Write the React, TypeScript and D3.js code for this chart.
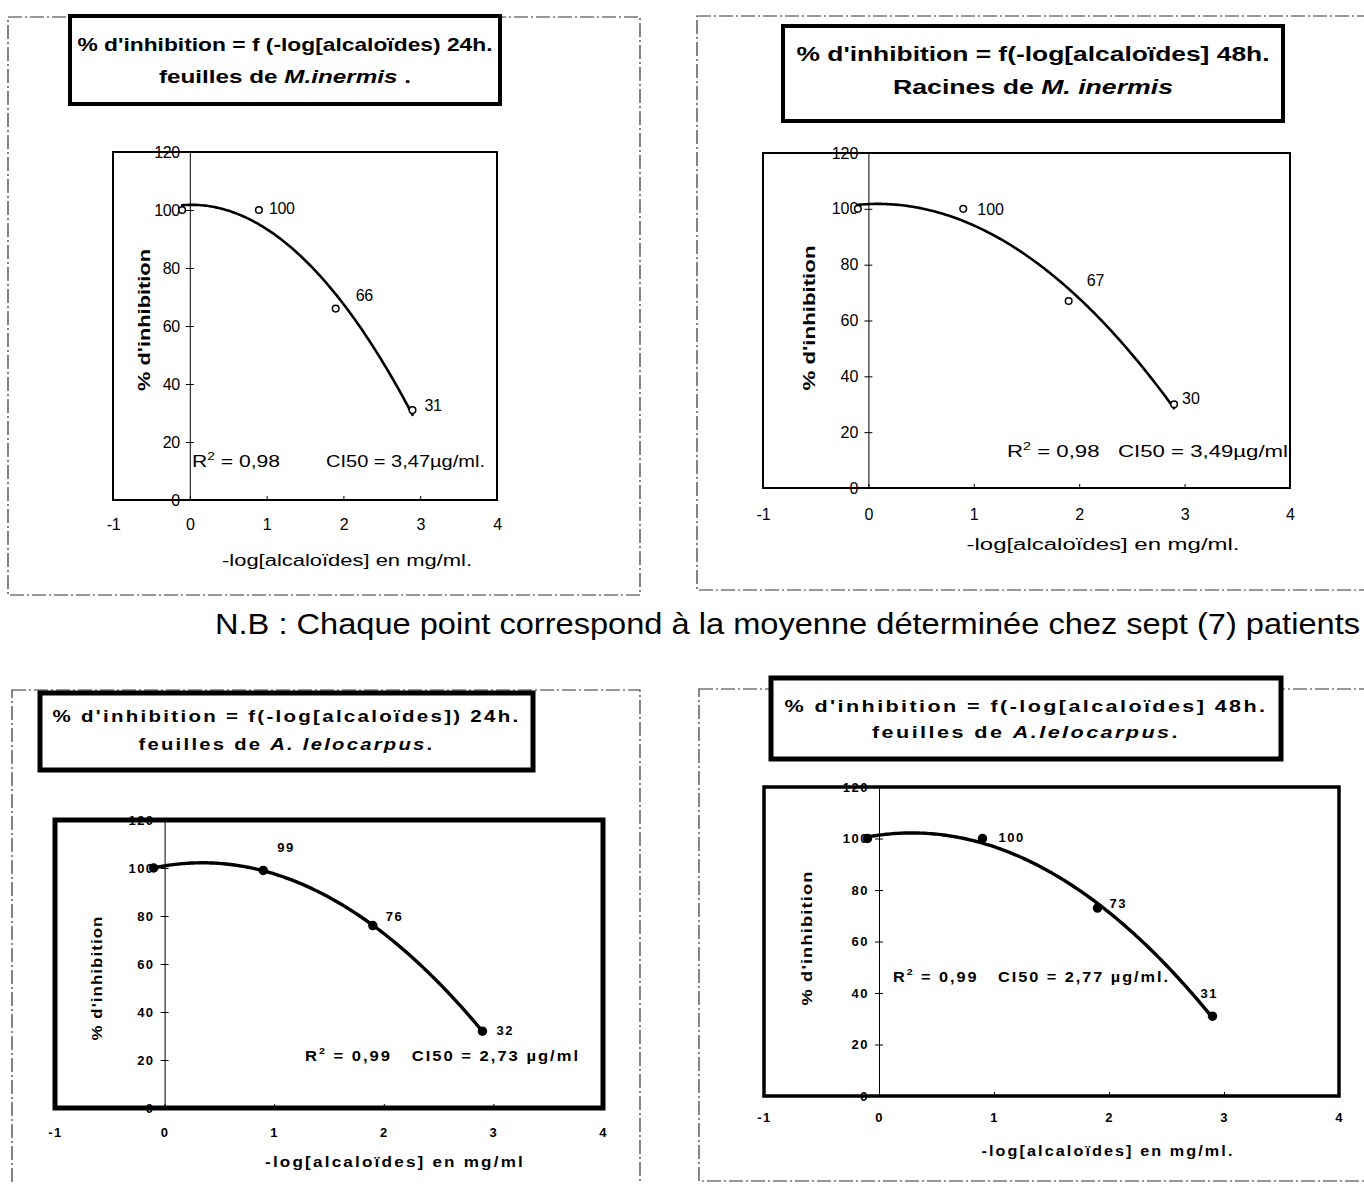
import * as d3 from "d3";
import React, { useEffect, useRef } from "react";

// -log[alcaloïdes] of the four tested dilutions
const doses = [-0.1, 0.9, 1.9, 2.9];
// mean % inhibition per dilution
const inhibLeavesMi24 = [100, 100, 66, 31];
const inhibRootsMi48 = [100, 100, 67, 30];
const inhibLeavesAl24 = [100, 99, 76, 32];
const inhibLeavesAl48 = [100, 100, 73, 31];

const yTicks = [0, 20, 40, 60, 80, 100, 120];
const xTicks = [-1, 0, 1, 2, 3, 4];

const r2Values = ["0,98", "0,98", "0,99", "0,99"];
const ci50Values = ["3,47µg/ml.", "3,49µg/ml", "2,73 µg/ml", "2,77 µg/ml."];

const titleLines = [
    [[["% d'inhibition = f (-log[alcaloïdes) 24h.", false]], [["feuilles de ", false], ["M.inermis", true], [" .", false]]],
    [[["% d'inhibition = f(-log[alcaloïdes] 48h.", false]], [["Racines de ", false], ["M. inermis", true]]],
    [[["% d'inhibition = f(-log[alcaloïdes]) 24h.", false]], [["feuilles de ", false], ["A. lelocarpus", true], [".", false]]],
    [[["% d'inhibition = f(-log[alcaloïdes] 48h.", false]], [["feuilles de ", false], ["A.lelocarpus", true], [".", false]]],
];
const xTitles = [
    "-log[alcaloïdes] en mg/ml.",
    "-log[alcaloïdes] en mg/ml.",
    "-log[alcaloïdes] en mg/ml",
    "-log[alcaloïdes] en mg/ml.",
];
const yTitle = "% d'inhibition";
const note = "N.B : Chaque point correspond à la moyenne déterminée chez sept (7) patients";

// least squares 2nd order trend line (like the spreadsheet one)
function quadFit(xs: number[], ys: number[]) {
    const s = [0, 0, 0, 0, 0];
    const t = [0, 0, 0];
    xs.forEach((x, i) => {
        for (let k = 0; k < 5; k++) s[k] += Math.pow(x, k);
        for (let k = 0; k < 3; k++) t[k] += Math.pow(x, k) * ys[i];
    });
    const m = [
        [s[0], s[1], s[2]],
        [s[1], s[2], s[3]],
        [s[2], s[3], s[4]],
    ];
    const det = (a: number[][]) =>
        a[0][0] * (a[1][1] * a[2][2] - a[1][2] * a[2][1]) -
        a[0][1] * (a[1][0] * a[2][2] - a[1][2] * a[2][0]) +
        a[0][2] * (a[1][0] * a[2][1] - a[1][1] * a[2][0]);
    const D = det(m);
    const coef = [0, 1, 2].map((c) => det(m.map((row, r) => row.map((v, j) => (j === c ? t[r] : v)))) / D);
    return (x: number) => coef[0] + coef[1] * x + coef[2] * x * x;
}

// layout of each panel (pixels)
const panels = [
    {
        values: inhibLeavesMi24, idx: 0,
        outer: [8, 17, 632, 578], box: [70, 16, 430, 88], boxW: 4, lineY: [46, 78], titleSize: 19, titleLen: [415, 252],
        xr: [113, 497], yr: [500, 152], frameW: 2,
        font: 16, fontW: "normal", ls: -0.4, textLs: 0, xLabY: 27,
        xTitle: [347, 562, 250], yTitle: [146, 320, 142], titleFont: 16,
        ann: [[192, 467, 88], [326, 467, 159]], annSize: 16,
        dx: [0, 10, 20, 12], dy: [0, 0, -12, -3], open: true, curveW: 2.6,
    },
    {
        values: inhibRootsMi48, idx: 1,
        outer: [697, 16, 700, 574], box: [783, 26, 500, 95], boxW: 4, lineY: [55, 88], titleSize: 21, titleLen: [473, 280],
        xr: [763, 1290], yr: [488, 153], frameW: 2,
        font: 16, fontW: "normal", ls: 0, textLs: 0, xLabY: 29,
        xTitle: [1103, 546, 273], yTitle: [811, 318, 145], titleFont: 16,
        ann: [[1007, 457, 281]], annSize: 16,
        dx: [0, 14, 18, 8], dy: [0, 2, -19, -4], open: true, curveW: 2.6,
    },
    {
        values: inhibLeavesAl24, idx: 2,
        outer: [12, 690, 628, 520], box: [40, 693, 493, 77], boxW: 5, lineY: [718, 746], titleSize: 16, titleLen: [468, 296],
        xr: [55, 603], yr: [1108, 820], frameW: 5,
        font: 13, fontW: "bold", ls: 1.5, textLs: 1.8, xLabY: 28,
        xTitle: [395, 1163, 260], yTitle: [98, 978, 125], titleFont: 14,
        ann: [[305, 1061, 275]], annSize: 15,
        dx: [0, 14, 13, 14], dy: [0, -22, -8, 0], open: false, curveW: 3.4,
    },
    {
        values: inhibLeavesAl48, idx: 3,
        outer: [699, 689, 700, 492], box: [771, 678, 510, 81], boxW: 5, lineY: [708, 734], titleSize: 16, titleLen: [483, 308],
        xr: [764, 1339], yr: [1096, 787], frameW: 3.5,
        font: 13, fontW: "bold", ls: 1.5, textLs: 1.8, xLabY: 25,
        xTitle: [1108, 1152, 253], yTitle: [808, 938, 135], titleFont: 14,
        ann: [[893, 982, 277]], annSize: 15,
        dx: [0, 16, 12, -12], dy: [0, 0, -3, -22], open: false, curveW: 3.4,
    },
];

const FONT = "'Liberation Sans', Arial, sans-serif";

function drawPanel(svg: any, p: any) {
    const g = svg.append("g").style("font-family", FONT);

    // scanned page frame
    g.append("rect")
        .attr("x", p.outer[0]).attr("y", p.outer[1])
        .attr("width", p.outer[2]).attr("height", p.outer[3])
        .attr("fill", "none").attr("stroke", "#333").attr("stroke-width", 1.2)
        .attr("stroke-dasharray", "14,3,2,3");

    // title box
    g.append("rect")
        .attr("x", p.box[0]).attr("y", p.box[1])
        .attr("width", p.box[2]).attr("height", p.box[3])
        .attr("fill", "#fff").attr("stroke", "#000").attr("stroke-width", p.boxW);
    titleLines[p.idx].forEach((line: any, li: number) => {
        const t = g.append("text")
            .attr("x", p.box[0] + p.box[2] / 2 - p.titleLen[li] / 2).attr("y", p.lineY[li])
            .attr("dominant-baseline", "middle")
            .attr("textLength", p.titleLen[li]).attr("lengthAdjust", "spacingAndGlyphs")
            .style("font-size", p.titleSize + "px").style("font-weight", "bold")
            .style("letter-spacing", p.textLs + "px");
        line.forEach(([txt, it]: any) => {
            t.append("tspan").style("font-style", it ? "italic" : "normal").text(txt);
        });
    });

    const x = d3.scaleLinear().domain([-1, 4]).range(p.xr);
    const y = d3.scaleLinear().domain([0, 120]).range(p.yr);

    // plot frame
    g.append("rect")
        .attr("x", p.xr[0]).attr("y", p.yr[1])
        .attr("width", p.xr[1] - p.xr[0]).attr("height", p.yr[0] - p.yr[1])
        .attr("fill", "#fff").attr("stroke", "#000").attr("stroke-width", p.frameW);

    // y axis on x = 0
    const yAxis = g.append("g")
        .attr("transform", `translate(${x(0)},0)`)
        .call(d3.axisLeft(y).tickValues(yTicks).tickSizeInner(4).tickSizeOuter(0).tickPadding(6).tickFormat((d: any) => String(d)));
    yAxis.select(".domain").attr("stroke", "#000").attr("stroke-width", 1);
    yAxis.selectAll("line").attr("stroke", "#000").attr("x2", -4).attr("x1", 4);
    yAxis.selectAll("text")
        .style("font-family", FONT).style("font-size", p.font + "px")
        .style("font-weight", p.fontW).style("letter-spacing", p.ls + "px").attr("fill", "#000");

    // x axis labels under the frame
    const xAxis = g.append("g")
        .attr("transform", `translate(0,${y(0)})`)
        .call(d3.axisBottom(x).tickValues(xTicks).tickSizeInner(-4).tickSizeOuter(0).tickPadding(p.xLabY - 8).tickFormat((d: any) => String(d)));
    xAxis.select(".domain").remove();
    xAxis.selectAll("line").attr("stroke", "#000");
    xAxis.selectAll("text")
        .style("font-family", FONT).style("font-size", p.font + "px")
        .style("font-weight", p.fontW).style("letter-spacing", p.ls + "px").attr("fill", "#000");

    g.append("text")
        .attr("x", p.xTitle[0] - p.xTitle[2] / 2).attr("y", p.xTitle[1])
        .attr("dominant-baseline", "middle")
        .attr("textLength", p.xTitle[2]).attr("lengthAdjust", "spacingAndGlyphs")
        .style("font-size", p.titleFont + "px").style("font-weight", p.fontW)
        .style("letter-spacing", p.textLs + "px")
        .text(xTitles[p.idx]);

    g.append("text")
        .attr("transform", `translate(${p.yTitle[0]},${p.yTitle[1]}) rotate(-90)`)
        .attr("x", -p.yTitle[2] / 2)
        .attr("dominant-baseline", "middle")
        .attr("textLength", p.yTitle[2]).attr("lengthAdjust", "spacingAndGlyphs")
        .style("font-size", p.titleFont + "px").style("font-weight", "bold")
        .style("letter-spacing", p.textLs / 2 + "px")
        .text(yTitle);

    // trend line
    const fit = quadFit(doses, p.values);
    const ts = d3.range(doses[0], doses[doses.length - 1] + 1e-9, 0.02);
    g.append("path")
        .datum(ts)
        .attr("d", d3.line<number>().x((d) => x(d)).y((d) => y(fit(d))))
        .attr("fill", "none").attr("stroke", "#000").attr("stroke-width", p.curveW)
        .attr("stroke-linecap", "round");

    // points
    g.selectAll(".pt")
        .data(p.values)
        .enter()
        .append("circle")
        .attr("cx", (d: number, i: number) => x(doses[i]))
        .attr("cy", (d: number) => y(d))
        .attr("r", p.open ? 3.3 : 4)
        .attr("fill", p.open ? "#fff" : "#000")
        .attr("stroke", "#000").attr("stroke-width", 1.5);

    g.selectAll(".lbl")
        .data(p.values.slice(1))
        .enter()
        .append("text")
        .attr("x", (d: number, i: number) => x(doses[i + 1]) + p.dx[i + 1])
        .attr("y", (d: number, i: number) => y(d) + p.dy[i + 1])
        .attr("dominant-baseline", "middle")
        .style("font-size", p.font + "px").style("font-weight", p.fontW)
        .style("letter-spacing", p.ls + "px")
        .text((d: number) => String(d));

    // R² / CI50 annotation
    const annText = (a: number[]) =>
        g.append("text").attr("x", a[0]).attr("y", a[1])
            .attr("textLength", a[2]).attr("lengthAdjust", "spacingAndGlyphs")
            .style("font-size", p.annSize + "px").style("font-weight", p.fontW)
            .style("letter-spacing", p.textLs + "px")
            .style("white-space", "pre");
    const addR2 = (t: any) => {
        t.append("tspan").text("R");
        t.append("tspan").attr("dy", -7).style("font-size", p.annSize * 0.65 + "px").text("2");
        t.append("tspan").attr("dy", 7).text(" = " + r2Values[p.idx]);
    };
    if (p.ann.length === 2) {
        addR2(annText(p.ann[0]));
        annText(p.ann[1]).text("CI50 = " + ci50Values[p.idx]);
    } else {
        const a = annText(p.ann[0]);
        addR2(a);
        a.append("tspan").text("   CI50 = " + ci50Values[p.idx]);
    }
}

export default function App() {
    const ref = useRef<SVGSVGElement>(null);

    useEffect(() => {
        const svg = d3.select(ref.current);
        svg.selectAll("*").remove();
        svg.append("rect").attr("width", 1364).attr("height", 1184).attr("fill", "#fff");
        panels.forEach((p) => drawPanel(svg, p));

        svg.append("text")
            .attr("x", 215).attr("y", 634)
            .attr("textLength", 1145).attr("lengthAdjust", "spacingAndGlyphs")
            .style("font-family", FONT).style("font-size", "30px")
            .text(note);
    }, []);

    return (
        <svg
            ref={ref}
            width={1364}
            height={1184}
            style={{ position: "absolute", left: 0, top: 0, display: "block" }}
        />
    );
}
